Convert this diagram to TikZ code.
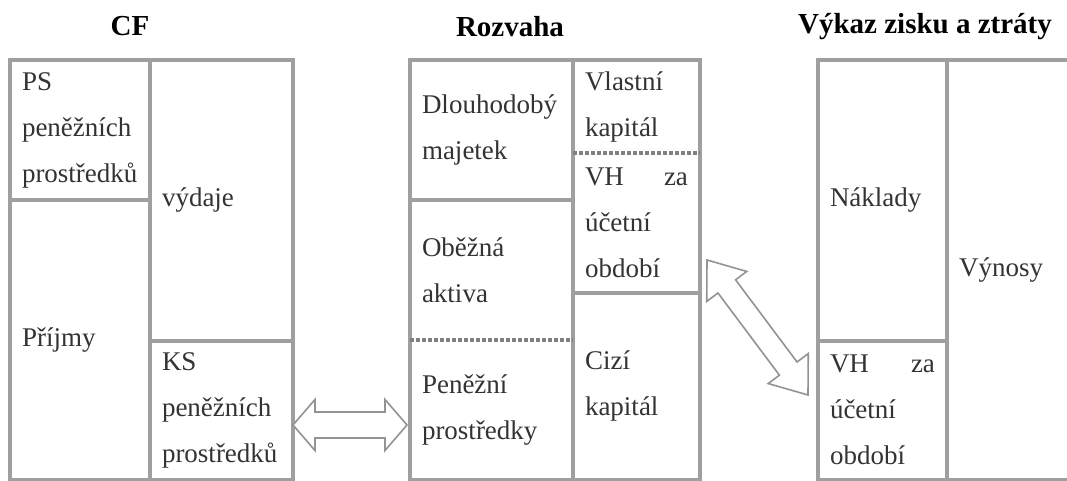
\documentclass[tikz,border=0pt]{standalone}
\usepackage{fontspec}
\setmainfont{Liberation Serif}
\usepackage{tikz}
\usetikzlibrary{positioning,calc}
\tikzstyle{headline} = [font=\fontsize{14.5}{17}\selectfont\bfseries, inner sep=0pt]
\tikzstyle{cell} = [rectangle, draw=none, inner xsep=6pt, inner ysep=0pt, outer sep=0pt, align=left, text=black!80, font=\fontsize{13.5}{23}\selectfont]
\tikzstyle{tabframe} = [draw=gray!75, line width=1.6pt]
\tikzstyle{dotline} = [draw=gray, line width=1.6pt, dash pattern=on 2pt off 1pt]
\tikzstyle{twoway} = [draw=gray!85, line width=0.8pt, fill=white, line join=miter]

% double arrow: from, to, head length, head half width, shaft half width
\newcommand{\twoway}[5]{%
  \draw[twoway] (#1) -- ($(#1)!#3!(#2)!#4!90:(#2)$) -- ($(#1)!#3!(#2)!#5!90:(#2)$)
    -- ($(#2)!#3!(#1)!#5!-90:(#1)$) -- ($(#2)!#3!(#1)!#4!-90:(#1)$) -- (#2)
    -- ($(#2)!#3!(#1)!#4!90:(#1)$) -- ($(#2)!#3!(#1)!#5!90:(#1)$)
    -- ($(#1)!#3!(#2)!#5!-90:(#2)$) -- ($(#1)!#3!(#2)!#4!-90:(#2)$) -- cycle;}

\begin{document}
\begin{tikzpicture}
\useasboundingbox (0,0) rectangle (533.5pt,-240.5pt);

%titles
\node (cf) [headline] at (65pt,-13pt) {CF};
\node (rozvaha) [headline] at (255pt,-13.5pt) {Rozvaha};
\node (vzz) [headline] at (462.5pt,-13.5pt) {Výkaz zisku a ztráty};

%CF
\node (ps) [cell, text width=58pt, minimum height=70pt, anchor=north west] at (5pt,-30pt) {PS\\ peněžních\\ prostředků};
\node (prijmy) [cell, text width=58pt, minimum height=139.75pt, below=0pt of ps] {Příjmy};
\node (vydaje) [cell, text width=59.5pt, minimum height=140.5pt, right=0pt of ps.north east, anchor=north west] {výdaje};
\node (ks) [cell, text width=59.5pt, minimum height=69.25pt, below=0pt of vydaje] {KS\\ peněžních\\ prostředků};

%Rozvaha
\node (dm) [cell, text width=69.5pt, minimum height=70pt, anchor=north west] at (205pt,-30pt) {Dlouhodobý\\ majetek};
\node (oa) [cell, text width=69.5pt, minimum height=70pt, below=0pt of dm] {Oběžná\\ aktiva};
\node (pp) [cell, text width=69.5pt, minimum height=69.75pt, below=0pt of oa] {Peněžní\\ prostředky};
\node (vk) [cell, text width=51.5pt, minimum height=46.5pt, right=0pt of dm.north east, anchor=north west] {Vlastní\\ kapitál};
\node (vh) [cell, text width=51.5pt, minimum height=70pt, below=0pt of vk] {VH \hfill za\\ účetní\\ období};
\node (ck) [cell, text width=51.5pt, minimum height=93.25pt, below=0pt of vh] {Cizí\\ kapitál};

%Vykaz zisku a ztraty
\node (naklady) [cell, text width=52.5pt, minimum height=140.5pt, anchor=north west] at (409pt,-30pt) {Náklady};
\node (vhz) [cell, text width=52.5pt, minimum height=69.25pt, below=0pt of naklady] {VH \hfill za\\ účetní\\ období};
\node (vynosy) [cell, text width=50.5pt, minimum height=209.75pt, right=0pt of naklady.north east, anchor=north west] {Výnosy};

%lines
\draw[tabframe] (ps.north west) rectangle (ks.south east);
\draw[tabframe] (vydaje.north west) -- (ks.south west);
\draw[tabframe] (ps.south west) -- (ps.south east);
\draw[tabframe] (vydaje.south west) -- (vydaje.south east);

\draw[tabframe] (dm.north west) rectangle (ck.south east);
\draw[tabframe] (vk.north west) -- (ck.south west);
\draw[tabframe] (dm.south west) -- (dm.south east);
\draw[dotline] (oa.south west) -- (oa.south east);
\draw[dotline] (vk.south west) -- (vk.south east);
\draw[tabframe] (vh.south west) -- (vh.south east);

\draw[tabframe] (naklady.north west) rectangle (vynosy.south east);
\draw[tabframe] (vynosy.north west) -- (vynosy.south west);
\draw[tabframe] (naklady.south west) -- (naklady.south east);

%arrows
\coordinate (cfend) at (146.5pt,-212.5pt);
\coordinate (rozend) at (203.5pt,-212.5pt);
\coordinate (vhend) at (353.5pt,-130pt);
\coordinate (vzzend) at (404pt,-197.5pt);
\twoway{cfend}{rozend}{11pt}{12.75pt}{6.5pt}
\twoway{vhend}{vzzend}{16.5pt}{12.5pt}{5.5pt}
\end{tikzpicture}
\end{document}
